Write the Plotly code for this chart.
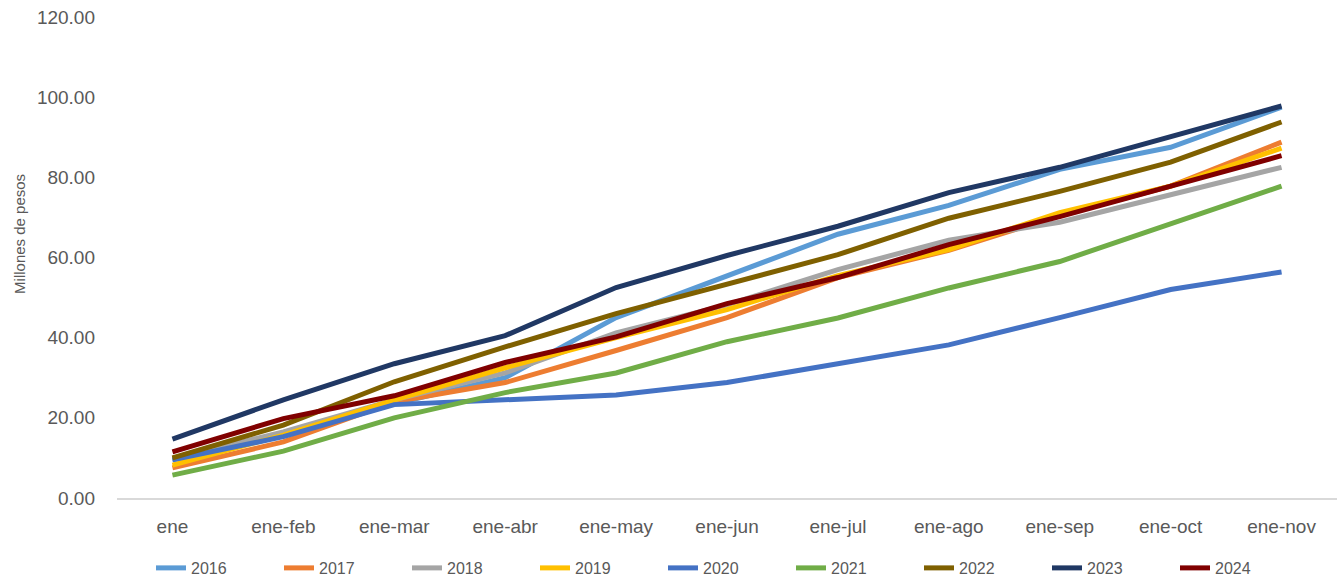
import plotly.graph_objects as go

meses = ["ene", "ene-feb", "ene-mar", "ene-abr", "ene-may", "ene-jun",
         "ene-jul", "ene-ago", "ene-sep", "ene-oct", "ene-nov"]

y2016 = [9.5, 15.5, 23.5, 30.0, 45.0, 55.5, 65.8, 73.0, 82.0, 87.5, 97.5]
y2017 = [7.5, 14.0, 24.0, 28.8, 36.8, 45.0, 55.0, 61.8, 70.5, 77.8, 88.8]
y2018 = [9.8, 16.5, 24.5, 31.2, 41.2, 48.2, 57.0, 64.3, 68.8, 75.6, 82.5]
y2019 = [8.2, 15.7, 24.5, 32.5, 40.0, 47.0, 55.5, 62.0, 71.2, 77.8, 87.3]
y2020 = [9.5, 15.3, 23.3, 24.6, 25.7, 28.8, 33.5, 38.2, 45.0, 52.0, 56.4]
y2021 = [5.7, 11.7, 20.0, 26.3, 31.2, 39.0, 44.9, 52.4, 59.0, 68.5, 77.8]
y2022 = [10.0, 18.2, 29.0, 37.7, 46.0, 53.5, 60.7, 69.8, 76.5, 83.8, 93.8]
y2023 = [14.7, 24.5, 33.5, 40.5, 52.5, 60.5, 67.8, 76.2, 82.5, 90.0, 97.8]
y2024 = [11.5, 19.8, 25.5, 33.8, 40.2, 48.5, 55.0, 63.2, 70.2, 77.7, 85.4]

series = [
    ("2016", y2016, "#5B9BD5"),
    ("2017", y2017, "#ED7D31"),
    ("2018", y2018, "#A5A5A5"),
    ("2019", y2019, "#FFC000"),
    ("2020", y2020, "#4472C4"),
    ("2021", y2021, "#70AD47"),
    ("2022", y2022, "#7F6000"),
    ("2023", y2023, "#203864"),
    ("2024", y2024, "#800000"),
]

fig = go.Figure()
for name, vals, color in series:
    fig.add_trace(go.Scatter(
        x=meses, y=vals, name=name, mode="lines",
        line=dict(color=color, width=5),
    ))

font = "Liberation Sans"
fig.update_layout(
    width=1337, height=576,
    paper_bgcolor="white", plot_bgcolor="white",
    margin=dict(l=117, r=0, t=17, b=78, autoexpand=False),
    font=dict(family=font, color="#595959", size=19),
    showlegend=True,
    legend=dict(
        orientation="h", x=0.5, xanchor="center",
        y=-0.1455, yanchor="middle",
        entrywidth=83, entrywidthmode="pixels",
        font=dict(size=16, color="#595959"), traceorder="normal",
    ),
    xaxis=dict(
        range=[-0.5, 10.5], showgrid=False, zeroline=False,
        showline=True, linecolor="#D9D9D9", linewidth=1.5,
        ticks="", ticklabelstandoff=10, automargin=False,
    ),
    yaxis=dict(
        range=[0, 120], dtick=20, tickformat=".2f", showgrid=False,
        zeroline=False, showline=False, ticklabelstandoff=21,
        automargin=False,
    ),
    annotations=[dict(
        text="Millones de pesos", textangle=-90, showarrow=False,
        xref="paper", yref="paper", x=-0.0795, y=0.549,
        xanchor="center", yanchor="middle",
        font=dict(size=15, color="#595959"),
    )],
)

# drop the browser's default 8px body margin so the figure sits at 0,0
fig.write_html("out.html", config={"displayModeBar": False},
               post_script="document.body.style.margin='0';")
